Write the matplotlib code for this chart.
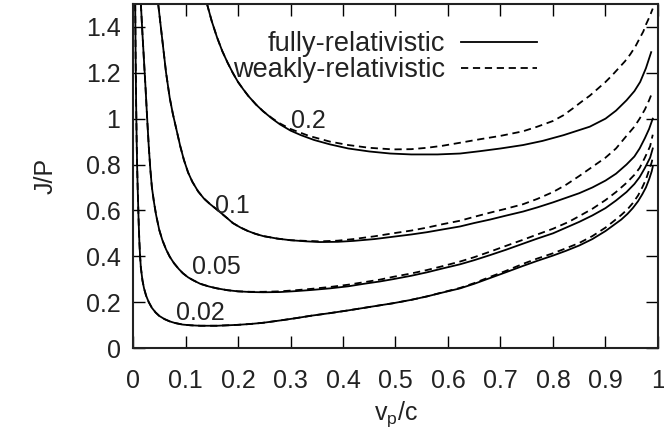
import matplotlib
matplotlib.use("Agg")
import matplotlib.pyplot as plt

plt.rcParams['font.family'] = ['Liberation Sans', 'DejaVu Sans']
plt.rcParams['mathtext.fontset'] = 'custom'
plt.rcParams['mathtext.rm'] = 'Liberation Sans'
plt.rcParams['mathtext.it'] = 'Liberation Sans'

# ---- data ----
labels = ["0.02", "0.05", "0.1", "0.2"]

x_02_full = [0.0042, 0.005, 0.006, 0.007, 0.008, 0.009, 0.0105, 0.012, 0.0135, 0.015, 0.018, 0.021,
             0.025, 0.03, 0.036, 0.043, 0.05, 0.06, 0.07, 0.08, 0.095, 0.11, 0.128, 0.145, 0.16,
             0.18, 0.2, 0.225, 0.248, 0.28, 0.31, 0.34, 0.375, 0.41, 0.44, 0.47, 0.495, 0.53,
             0.56, 0.59, 0.623, 0.65, 0.68, 0.71, 0.743, 0.77, 0.80, 0.825, 0.85, 0.875, 0.90,
             0.915, 0.93, 0.942, 0.952, 0.962, 0.97, 0.977, 0.983, 0.988, 0.99]
y_02_full = [1.5, 1.27, 1.06, 0.9, 0.78, 0.69, 0.57, 0.47, 0.40, 0.35, 0.295, 0.26,
             0.228, 0.2, 0.175, 0.155, 0.14, 0.126, 0.116, 0.109, 0.102, 0.099, 0.097, 0.097, 0.097,
             0.099, 0.101, 0.105, 0.11, 0.12, 0.13, 0.141, 0.152, 0.164, 0.175, 0.186, 0.195, 0.21,
             0.225, 0.242, 0.26, 0.28, 0.305, 0.33, 0.358, 0.38, 0.403, 0.424, 0.447, 0.475, 0.51,
             0.535, 0.56, 0.585, 0.61, 0.64, 0.67, 0.70, 0.735, 0.77, 0.79]
x_02_weak = x_02_full[:39] + [0.59, 0.623, 0.65, 0.68, 0.71, 0.743, 0.77, 0.80, 0.825, 0.85, 0.875,
                              0.90, 0.915, 0.93, 0.942, 0.952, 0.962, 0.97, 0.977, 0.983, 0.988, 0.99]
y_02_weak = y_02_full[:39] + [0.243, 0.262, 0.283, 0.31, 0.336, 0.367, 0.39, 0.413, 0.435, 0.458, 0.488,
                              0.525, 0.552, 0.58, 0.605, 0.632, 0.665, 0.70, 0.735, 0.775, 0.81, 0.83]

x_05_full = [0.015, 0.018, 0.021, 0.024, 0.027, 0.03, 0.033, 0.036, 0.04, 0.044, 0.05, 0.056,
             0.063, 0.07, 0.078, 0.087, 0.095, 0.105, 0.115, 0.128, 0.145, 0.16, 0.18, 0.2,
             0.225, 0.248, 0.28, 0.31, 0.34, 0.375, 0.41, 0.44, 0.47, 0.495, 0.53, 0.56, 0.59,
             0.623, 0.65, 0.68, 0.71, 0.743, 0.77, 0.80, 0.83, 0.85, 0.875, 0.90, 0.92, 0.94,
             0.955, 0.965, 0.975, 0.985, 0.99]
y_05_full = [1.5, 1.37, 1.25, 1.13, 1.0, 0.88, 0.78, 0.70, 0.635, 0.58, 0.515, 0.47,
             0.43, 0.398, 0.37, 0.345, 0.326, 0.308, 0.295, 0.28, 0.268, 0.26, 0.252, 0.247,
             0.244, 0.243, 0.244, 0.248, 0.253, 0.26, 0.269, 0.28, 0.29, 0.30, 0.315, 0.33, 0.347,
             0.365, 0.383, 0.405, 0.428, 0.455, 0.477, 0.50, 0.53, 0.55, 0.578, 0.61, 0.643, 0.68,
             0.715, 0.745, 0.785, 0.83, 0.87]
x_05_weak = x_05_full[:24] + [0.225, 0.248, 0.28, 0.31, 0.34, 0.375, 0.41, 0.44, 0.47, 0.495, 0.53,
                              0.56, 0.59, 0.623, 0.65, 0.68, 0.71, 0.743, 0.77, 0.80, 0.83, 0.85,
                              0.875, 0.90, 0.92, 0.94, 0.955, 0.965, 0.975, 0.985, 0.99]
y_05_weak = y_05_full[:24] + [0.245, 0.245, 0.247, 0.252, 0.258, 0.266, 0.276, 0.287, 0.298, 0.31, 0.325,
                              0.34, 0.357, 0.377, 0.396, 0.42, 0.445, 0.472, 0.495, 0.52, 0.55, 0.575,
                              0.607, 0.645, 0.68, 0.72, 0.755, 0.785, 0.83, 0.88, 0.93]

x_1_full = [0.048, 0.052, 0.056, 0.063, 0.07, 0.076, 0.082, 0.09, 0.097, 0.105, 0.113, 0.124,
            0.135, 0.147, 0.158, 0.168, 0.18, 0.19, 0.205, 0.219, 0.233, 0.248, 0.275, 0.30,
            0.33, 0.356, 0.39, 0.42, 0.46, 0.495, 0.53, 0.56, 0.59, 0.623, 0.65, 0.68, 0.71,
            0.743, 0.77, 0.80, 0.825, 0.85, 0.875, 0.90, 0.92, 0.94, 0.955, 0.965, 0.975, 0.983,
            0.99]
y_1_full = [1.5, 1.42, 1.34, 1.2, 1.09, 1.02, 0.96, 0.88, 0.82, 0.765, 0.725, 0.683,
            0.652, 0.627, 0.607, 0.588, 0.565, 0.545, 0.525, 0.51, 0.498, 0.488, 0.477, 0.47,
            0.465, 0.462, 0.463, 0.467, 0.475, 0.485, 0.495, 0.505, 0.517, 0.53, 0.545, 0.56, 0.577,
            0.595, 0.613, 0.635, 0.655, 0.675, 0.70, 0.73, 0.76, 0.80, 0.835, 0.87, 0.915, 0.955,
            1.0]
x_1_weak = x_1_full[:24] + [0.33, 0.356, 0.39, 0.42, 0.46, 0.495, 0.53, 0.56, 0.59, 0.623, 0.65, 0.68,
                            0.71, 0.743, 0.77, 0.80, 0.825, 0.85, 0.875, 0.90, 0.92, 0.94, 0.955,
                            0.965, 0.975, 0.983, 0.99]
y_1_weak = y_1_full[:24] + [0.467, 0.465, 0.468, 0.475, 0.487, 0.50, 0.512, 0.525, 0.54, 0.555, 0.572, 0.59,
                            0.607, 0.627, 0.65, 0.68, 0.712, 0.75, 0.79, 0.83, 0.87, 0.925, 0.965,
                            1.0, 1.04, 1.08, 1.12]

x_2_full = [0.141, 0.15, 0.16, 0.17, 0.18, 0.19, 0.20, 0.21, 0.22, 0.235, 0.248, 0.265,
            0.28, 0.30, 0.32, 0.345, 0.375, 0.41, 0.45, 0.49, 0.53, 0.58, 0.623, 0.66, 0.70,
            0.743, 0.78, 0.82, 0.87, 0.90, 0.92, 0.94, 0.955, 0.966, 0.977, 0.987]
y_2_full = [1.50, 1.425, 1.355, 1.295, 1.245, 1.20, 1.16, 1.128, 1.098, 1.06, 1.032, 1.0,
            0.975, 0.948, 0.928, 0.907, 0.888, 0.87, 0.857, 0.848, 0.844, 0.844, 0.848, 0.858, 0.87,
            0.885, 0.903, 0.928, 0.965, 1.0, 1.035, 1.08, 1.12, 1.16, 1.22, 1.29]
x_2_weak = x_2_full[:11] + [0.265, 0.28, 0.30, 0.335, 0.375, 0.41, 0.45, 0.495, 0.53, 0.56, 0.59, 0.623,
                            0.66, 0.70, 0.743, 0.77, 0.80, 0.82, 0.838, 0.855, 0.87, 0.885, 0.90,
                            0.913, 0.925, 0.937, 0.947, 0.957, 0.965, 0.972, 0.977, 0.984, 0.99]
y_2_weak = y_2_full[:11] + [1.002, 0.979, 0.955, 0.925, 0.90, 0.885, 0.873, 0.866, 0.867, 0.873, 0.882,
                            0.895, 0.91, 0.925, 0.945, 0.965, 0.99, 1.015, 1.045, 1.075, 1.10, 1.13,
                            1.16, 1.19, 1.22, 1.25, 1.28, 1.315, 1.35, 1.38, 1.41, 1.445, 1.48]

label_x = [0.128, 0.158, 0.19, 0.335]
label_y = [0.152, 0.352, 0.62, 0.99]

xticks = [0, 0.1, 0.2, 0.3, 0.4, 0.5, 0.6, 0.7, 0.8, 0.9, 1]
xticklabels = ["0", "0.1", "0.2", "0.3", "0.4", "0.5", "0.6", "0.7", "0.8", "0.9", "1"]
yticks = [0, 0.2, 0.4, 0.6, 0.8, 1.0, 1.2, 1.4]
yticklabels = ["0", "0.2", "0.4", "0.6", "0.8", "1", "1.2", "1.4"]

# ---- figure ----
FS = 18
LFS = 19.5
TXT = '#222222'
fig = plt.figure(figsize=(6.64, 4.41), dpi=100)
ax = fig.add_axes([133/664, 1-348/441, 525/664, 344/441])

lw = 1.3
dash = (0, (4.0, 2.6))
full_sets = [(x_02_full, y_02_full), (x_05_full, y_05_full), (x_1_full, y_1_full), (x_2_full, y_2_full)]
weak_sets = [(x_02_weak, y_02_weak), (x_05_weak, y_05_weak), (x_1_weak, y_1_weak), (x_2_weak, y_2_weak)]
for i, ((xf, yf), (xw, yw)) in enumerate(zip(full_sets, weak_sets)):
    ax.plot(xf, yf, color='black', lw=lw, solid_joinstyle='round',
            label='fully-relativistic' if i == 0 else None)
    ax.plot(xw, yw, color='black', lw=lw, linestyle=dash,
            label='weakly-relativistic' if i == 0 else None)

for lab, lx, ly in zip(labels, label_x, label_y):
    ax.text(lx, ly, lab, fontsize=FS, ha='center', va='center', color=TXT)

ax.set_xlim(0, 1)
ax.set_ylim(0, 1.5)
ax.set_xticks(xticks)
ax.set_xticklabels(xticklabels)
ax.set_yticks(yticks)
ax.set_yticklabels(yticklabels)
ax.tick_params(direction='in', length=8.5, width=1.0, top=True, right=True,
               labelsize=FS, labelcolor=TXT)
ax.tick_params(axis='x', pad=15)
ax.tick_params(axis='y', pad=9)
for s in ax.spines.values():
    s.set_linewidth(1.5)
    s.set_color(TXT)

ax.set_xlabel('v$_{\\mathregular{p}}$/c', fontsize=FS, color=TXT, labelpad=5)
ax.set_ylabel('J/P', fontsize=FS, color=TXT, labelpad=20)

leg = ax.legend(loc='upper right', bbox_to_anchor=((537-133)/525, (348-31)/344),
                frameon=False, markerfirst=False, fontsize=LFS, handlelength=2.8,
                handletextpad=0.6, labelspacing=0.0, borderpad=0, borderaxespad=0)
for t in leg.get_texts():
    t.set_color(TXT)

fig.savefig('out.png', dpi=100)
